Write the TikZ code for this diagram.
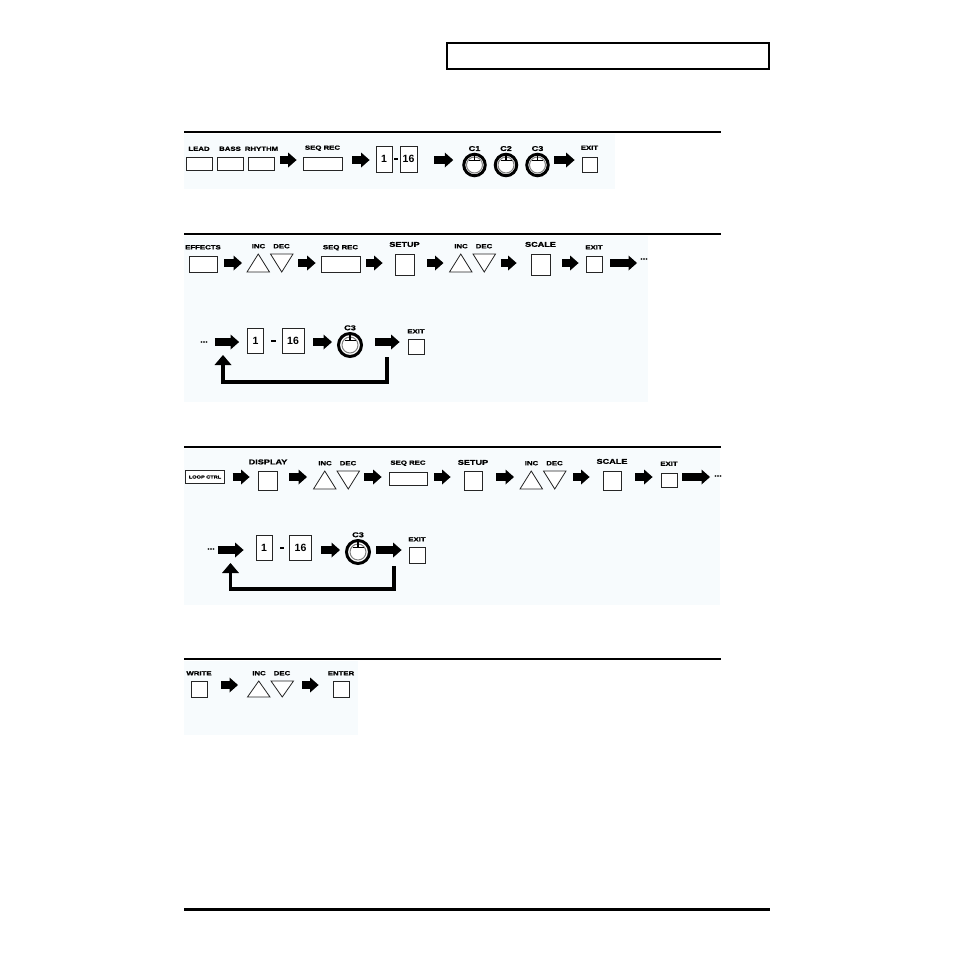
\documentclass[tikz,border=0pt]{standalone}
\usepackage{fontspec}
\setmainfont{Liberation Sans}
\newfontfamily\lblfont{Liberation Sans}[FakeStretch=1.3, BoldFeatures={FakeStretch=1.3, FakeBold=1.2}]
\usetikzlibrary{calc,positioning,arrows.meta}
\definecolor{panelbg}{RGB}{247,251,253}

\begin{document}
\begin{tikzpicture}[x=1pt,y=-1pt,
	lbl/.style={font=\lblfont\bfseries\fontsize{6}{6}\selectfont, inner sep=0pt},
	biglbl/.style={font=\lblfont\bfseries\fontsize{7}{7}\selectfont, inner sep=0pt},
	btn/.style={draw=black!85, line width=0.8pt, fill=white, inner sep=0pt},
	numbox/.style={btn, font=\bfseries\fontsize{10.5}{10.5}\selectfont},
	seqbtn/.style={btn, path picture={\fill (path picture bounding box.center) circle[radius=1.8pt];}},
	hyph/.style={fill, minimum width=4.5pt, minimum height=1.5pt, inner sep=0pt},
	knob/.style={circle, draw, line width=3pt, fill=white, minimum size=21.5pt, inner sep=0pt,
			path picture={
					\draw[black!50, line width=1pt] (path picture bounding box.center) circle[radius=8pt];
					\draw[line width=0.7pt] ($(path picture bounding box.center)+(-5.5pt,5pt)$) -- ++(11pt,0pt);
					\draw[line width=1.4pt] ($(path picture bounding box.center)+(0pt,11pt)$) -- ++(0pt,-6pt);
				}},
	pair/.style={minimum width=46pt, minimum height=18pt, inner sep=0pt, outer sep=0pt},
	tri/.style={draw=black!85, line width=0.8pt, fill=white},
	fat/.style={line width=8pt, -{Triangle[length=8.5pt, width=15pt, line width=0pt]}},
	backline/.style={line width=3.5pt, -{Triangle[length=10pt, width=17pt, line width=0pt]}},
	rule/.style={line width=2.2pt},
	panel/.style={fill=panelbg}]

	\fill[white] (0,0) rectangle (954,954);
	\useasboundingbox (0,0) rectangle (954,954);

	\fill[panel] (184,134) rectangle (615,189);
	\fill[panel] (184,236) rectangle (648,402);
	\fill[panel] (184,449) rectangle (720,605);
	\fill[panel] (184,661) rectangle (358,735);

	\draw[line width=2pt, fill=white] (447,43) rectangle (769,69);
	\foreach \y in {132,234,447,659} {
			\draw[rule] (184,\y) -- (721,\y);
		}
	\draw[line width=3pt] (184,909) -- (770,909);

	% row 1
	\foreach \n/\x/\txt in {lead/199/LEAD, bass/230/BASS, rhythm/261.5/RHYTHM} {
			\node[btn, minimum width=26pt, minimum height=13pt] (\n) at (\x,163.5) {};
			\node[lbl, above=5.5pt of \n] (\n-t) {\txt};
		}
	\node[seqbtn, minimum width=39pt, minimum height=13pt] (seqrec1) at (322.5,163.5) {};
	\node[lbl, above=5.5pt of seqrec1] (seqrec1-t) {SEQ REC};
	\node[numbox, minimum width=16pt, minimum height=26pt] (chA1) at (384,159) {1};
	\node[hyph] (hy1) at (396,159) {};
	\node[numbox, minimum width=17pt, minimum height=26pt] (chB1) at (408.5,159) {16};
	\foreach \n/\x/\txt in {knobA/474.5/C1, knobB/506/C2, knobC/537.5/C3} {
			\node[knob] (\n) at (\x,165) {};
			\node[biglbl, above=1.5pt of \n] (\n-t) {\txt};
		}
	\node[btn, minimum size=15pt] (exit1) at (589.5,164.5) {};
	\node[lbl, above=6.5pt of exit1] (exit1-t) {EXIT};

	% row 2
	\node[btn, minimum width=28pt, minimum height=16pt] (effects) at (203,264) {};
	\node[lbl, above=6pt of effects] (effects-t) {EFFECTS};
	\node[pair] (incdec2a) at (270,263) {};
	\node[seqbtn, minimum width=39pt, minimum height=16pt] (seqrec2) at (340.5,264) {};
	\node[lbl, above=5pt of seqrec2] (seqrec2-t) {SEQ REC};
	\node[btn, minimum width=19pt, minimum height=21pt] (setup2) at (404.5,264.5) {};
	\node[biglbl, above=6.5pt of setup2] (setup2-t) {SETUP};
	\node[pair] (incdec2b) at (472.5,263) {};
	\node[btn, minimum width=19pt, minimum height=21pt] (scale2) at (540.5,264.5) {};
	\node[biglbl, above=6.5pt of scale2] (scale2-t) {SCALE};
	\node[btn, minimum size=16pt] (exit2) at (594,264) {};
	\node[lbl, above=6pt of exit2] (exit2-t) {EXIT};
	\node[biglbl] (more2) at (644,259) {...};

	\node[biglbl] (more2b) at (204,342) {...};
	\node[numbox, minimum width=16pt, minimum height=25pt] (chA2) at (255.5,340.5) {1};
	\node[hyph] (hy2) at (273.5,341) {};
	\node[numbox, minimum width=22pt, minimum height=25pt] (chB2) at (293,340.5) {16};
	\node[knob, minimum size=23pt] (knob2) at (350,345) {};
	\node[biglbl, above=1.5pt of knob2] (knob2-t) {C3};
	\node[btn, minimum width=16pt, minimum height=15pt] (exit2b) at (416,346.5) {};
	\node[lbl, above=5pt of exit2b] (exit2b-t) {EXIT};
	\coordinate (ret2a) at (387,357);
	\coordinate (ret2b) at (223,355);

	% row 3
	\node[btn, line width=1.1pt, minimum width=39pt, minimum height=13pt,
		font=\lblfont\bfseries\fontsize{4.3}{4.3}\selectfont] (loopctrl) at (205,477) {LOOP CTRL};
	\node[btn, minimum size=19pt] (display) at (268,480.5) {};
	\node[biglbl, above=6pt of display] (display-t) {DISPLAY};
	\node[pair] (incdec3a) at (336.5,480) {};
	\node[seqbtn, minimum width=38pt, minimum height=13pt] (seqrec3) at (408,479) {};
	\node[lbl, above=6pt of seqrec3] (seqrec3-t) {SEQ REC};
	\node[btn, minimum width=18pt, minimum height=19pt] (setup3) at (473,480.5) {};
	\node[biglbl, above=5.5pt of setup3] (setup3-t) {SETUP};
	\node[pair] (incdec3b) at (543,480) {};
	\node[btn, minimum width=18pt, minimum height=19pt] (scale3) at (612,480.5) {};
	\node[biglbl, above=6.5pt of scale3] (scale3-t) {SCALE};
	\node[btn, minimum width=16pt, minimum height=14pt] (exit3) at (669,480) {};
	\node[lbl, above=6.5pt of exit3] (exit3-t) {EXIT};
	\node[biglbl] (more3) at (718,476) {...};

	\node[biglbl] (more3b) at (211,549) {...};
	\node[numbox, minimum width=16pt, minimum height=25pt] (chA3) at (264,548) {1};
	\node[hyph] (hy3) at (282,548) {};
	\node[numbox, minimum width=22pt, minimum height=25pt] (chB3) at (300.5,548) {16};
	\node[knob, minimum size=23pt] (knob3) at (358,552) {};
	\node[biglbl, above=1.5pt of knob3] (knob3-t) {C3};
	\node[btn, minimum size=16pt] (exit3b) at (417,555) {};
	\node[lbl, above=5pt of exit3b] (exit3b-t) {EXIT};
	\coordinate (ret3a) at (394,566);
	\coordinate (ret3b) at (230.5,563);

	% row 4
	\node[btn, minimum size=16pt] (write) at (199,689) {};
	\node[lbl, above=5pt of write] (write-t) {WRITE};
	\node[pair, minimum height=16pt] (incdec4) at (270.5,689) {};
	\node[btn, minimum size=16pt] (enter) at (341,689) {};
	\node[lbl, above=5pt of enter] (enter-t) {ENTER};

	\foreach \p in {incdec2a,incdec2b,incdec3a,incdec3b,incdec4} {
			\draw[tri] (\p.south west) -- ($(\p.north west)+(11.25,0)$) -- ($(\p.south west)+(22.5,0)$) -- cycle;
			\draw[tri] ($(\p.north east)+(-22.5,0)$) -- ($(\p.south east)+(-11.25,0)$) -- (\p.north east) -- cycle;
			\node[lbl, anchor=south] (\p-inc) at ($(\p.north west)+(11.5,-5.5)$) {INC};
			\node[lbl, anchor=south] (\p-dec) at ($(\p.north east)+(-11.5,-5.5)$) {DEC};
		}

	\foreach \a/\b/\y/\s/\e in {
			rhythm/seqrec1/160/5pt/6pt, seqrec1/chA1/160/10pt/6pt, chB1/knobA/160/17pt/9pt, knobC/exit1/160/4.5pt/7pt,
			effects/incdec2a/263/7pt/5pt, incdec2a/seqrec2/263/5pt/5pt, seqrec2/setup2/263/6pt/12pt,
			setup2/incdec2b/263/13pt/6pt, incdec2b/scale2/263/5pt/14pt, scale2/exit2/263/12pt/7pt, exit2/more2/263/8pt/3pt,
			more2b/chA2/342/7pt/8pt, chB2/knob2/342/9pt/5pt, knob2/exit2b/342/12pt/8pt,
			loopctrl/display/477/7.5pt/8.5pt, display/incdec3a/477/11.5pt/6.5pt, incdec3a/seqrec3/477/4.5pt/7pt,
			seqrec3/setup3/477/7pt/13pt, setup3/incdec3b/477/14pt/6pt, incdec3b/scale3/477/7pt/13pt,
			scale3/exit3/477/14pt/8pt, exit3/more3/477/5pt/4pt,
			more3b/chA3/550/3pt/12pt, chB3/knob3/550/9.5pt/5pt, knob3/exit3b/550/5pt/7pt,
			write/incdec4/685/14pt/9.5pt, incdec4/enter/685/8.5pt/14pt} {
			\draw[fat, shorten <=\s, shorten >=\e] (\a.east |- 0,\y) -- (\b.west |- 0,\y);
		}

	\draw[backline] (ret2a) -- ++(0,25) -| (ret2b);
	\draw[backline] (ret3a) -- ++(0,23) -| (ret3b);
\end{tikzpicture}
\end{document}
